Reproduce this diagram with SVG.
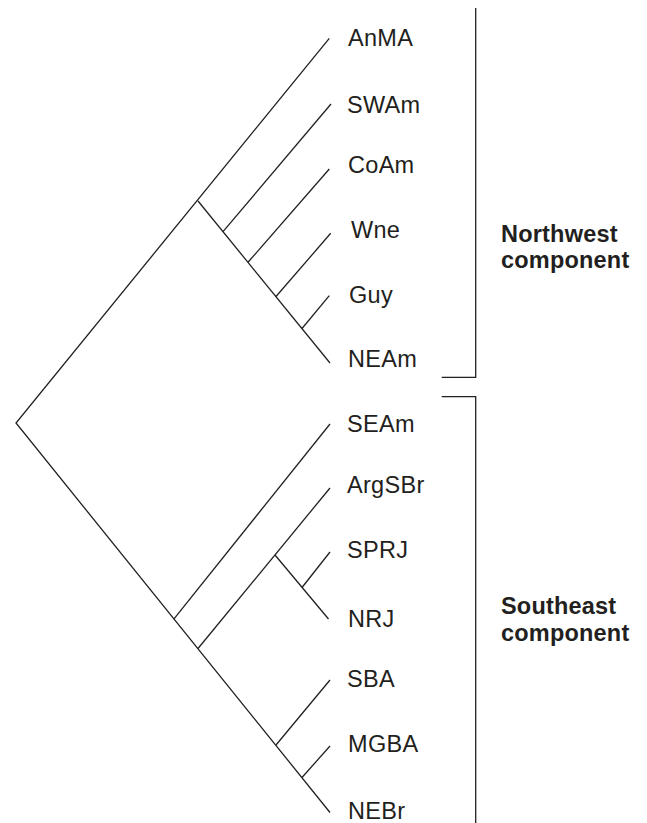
<svg xmlns="http://www.w3.org/2000/svg" width="647" height="823" viewBox="0 0 647 823">
  <style>
    .edge { stroke: #231f20; stroke-width: 1.3; fill: none; stroke-linecap: butt; }
    .taxon { font-family: "Liberation Sans", Arial, sans-serif; font-size: 23.5px; letter-spacing: 0.3px; fill: #231f20; }
    .group { font-family: "Liberation Sans", Arial, sans-serif; font-size: 23.5px; font-weight: bold; letter-spacing: 0.2px; fill: #231f20; }
  </style>
  <rect width="647" height="823" fill="#ffffff"/>

  <!-- tree branches -->
  <g id="connectors">
    <!-- root to the two components -->
    <path class="edge" d="M329.3,38.3 L16,423 L330,812.5"/>
    <!-- northwest component -->
    <path class="edge" d="M198,201 L330,363"/>
    <path class="edge" d="M223,231.7 L331,104"/>
    <path class="edge" d="M248,262.3 L329.3,169"/>
    <path class="edge" d="M276,296.5 L330.7,233.3"/>
    <path class="edge" d="M302,328.5 L329.3,295.7"/>
    <!-- southeast component -->
    <path class="edge" d="M174,618.8 L330,424"/>
    <path class="edge" d="M198,648.5 L330,488"/>
    <path class="edge" d="M275,555 L328.5,619"/>
    <path class="edge" d="M302,587.5 L330,552"/>
    <path class="edge" d="M276,745 L330,680"/>
    <path class="edge" d="M302,777.5 L330,746"/>
    <!-- component brackets -->
    <path class="edge" d="M475.7,8 L475.7,377.3 L441.7,377.3"/>
    <path class="edge" d="M441.7,396.7 L475.7,396.7 L475.7,823"/>
  </g>

  <!-- terminal taxa -->
  <g id="AnMA"><text class="taxon" x="348" y="45.5">AnMA</text></g>
  <g id="SWAm"><text class="taxon" x="347" y="113.3">SWAm</text></g>
  <g id="CoAm"><text class="taxon" x="348" y="173.3">CoAm</text></g>
  <g id="Wne"><text class="taxon" x="351" y="238">Wne</text></g>
  <g id="Guy"><text class="taxon" x="349" y="303">Guy</text></g>
  <g id="NEAm"><text class="taxon" x="348" y="366.7">NEAm</text></g>
  <g id="SEAm"><text class="taxon" x="347" y="431.7">SEAm</text></g>
  <g id="ArgSBr"><text class="taxon" x="347" y="492.7">ArgSBr</text></g>
  <g id="SPRJ"><text class="taxon" x="347" y="558">SPRJ</text></g>
  <g id="NRJ"><text class="taxon" x="348" y="626.7">NRJ</text></g>
  <g id="SBA"><text class="taxon" x="347" y="686.7">SBA</text></g>
  <g id="MGBA"><text class="taxon" x="348" y="751.7">MGBA</text></g>
  <g id="NEBr"><text class="taxon" x="348" y="818.5">NEBr</text></g>

  <!-- component labels -->
  <g id="northwest-component">
    <text class="group" x="501" y="241.5">Northwest</text>
    <text class="group" x="501" y="268">component</text>
  </g>
  <g id="southeast-component">
    <text class="group" x="501" y="614">Southeast</text>
    <text class="group" x="501" y="640.5">component</text>
  </g>
</svg>
